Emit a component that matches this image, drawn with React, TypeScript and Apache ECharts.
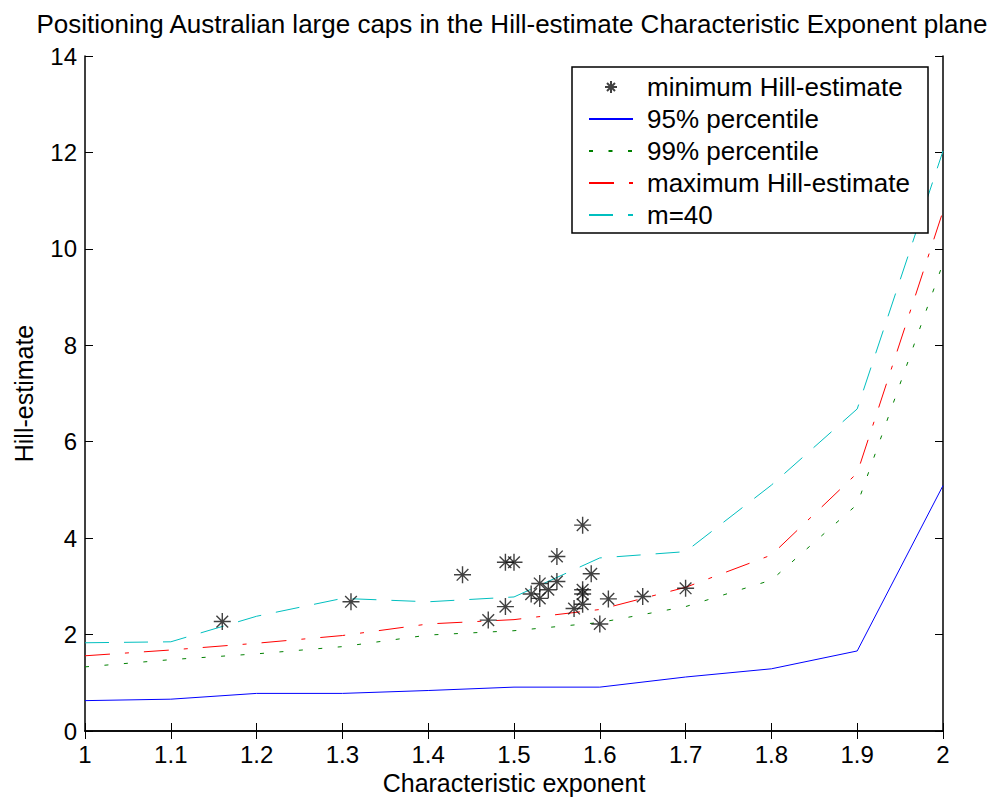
import React, { useEffect, useRef } from "react";
import * as echarts from "echarts";

const titleText = "Positioning Australian large caps in the Hill-estimate Characteristic Exponent plane";
const xName = "Characteristic exponent";
const yName = "Hill-estimate";

const alphas = [1.0, 1.1, 1.2, 1.3, 1.4, 1.5, 1.6, 1.7, 1.8, 1.9, 2.0];
const pct95 = [0.63, 0.66, 0.78, 0.78, 0.84, 0.91, 0.91, 1.12, 1.29, 1.66, 5.09];
const pct99 = [1.33, 1.48, 1.6, 1.75, 1.99, 2.08, 2.25, 2.58, 3.13, 4.7, 9.7];
const maxHill = [1.56, 1.68, 1.82, 1.98, 2.22, 2.31, 2.52, 2.98, 3.65, 5.35, 10.78];
const m40 = [1.83, 1.85, 2.38, 2.75, 2.68, 2.78, 3.59, 3.72, 5.1, 6.68, 12.03];

const minHillX = [1.16, 1.31, 1.44, 1.47, 1.49, 1.49, 1.5, 1.52, 1.53, 1.53, 1.54, 1.55, 1.55, 1.57, 1.58, 1.58, 1.58, 1.58, 1.59, 1.6, 1.61, 1.65, 1.7];
const minHillY = [2.27, 2.68, 3.24, 2.3, 3.5, 2.58, 3.5, 2.84, 3.06, 2.75, 2.93, 3.62, 3.1, 2.54, 4.27, 2.93, 2.84, 2.63, 3.26, 2.22, 2.74, 2.79, 2.96];

const seriesNames = ["minimum Hill-estimate", "95% percentile", "99% percentile", "maximum Hill-estimate", "m=40"];

const FONT = "'Liberation Sans', Arial, Helvetica, sans-serif";
const ASTERISK = "path://M8,0L8,16M0,8L16,8M2.5,2.5L13.5,13.5M2.5,13.5L13.5,2.5";
const ASTERISK_ICON = "path://M0,0M22,22M11,5L11,17M5,11L17,11M7,7L15,15M7,15L15,7";

const pair = (xs: number[], ys: number[]) => xs.map((x, i) => [x, ys[i]]);

export default function App() {
  const ref = useRef<HTMLDivElement>(null);
  useEffect(() => {
    if (!ref.current) return;
    const chart = echarts.init(ref.current, undefined, { renderer: "svg" });
    const fmtX = (v: number) => String(parseFloat(v.toFixed(1)));
    const axisLine = { show: true, lineStyle: { color: "#000", width: 1.5 } };
    const tick = { show: true, inside: true, length: 8, lineStyle: { color: "#000", width: 1 } };
    const lineSeries = (name: string, data: number[], color: string, type: any) => ({
      name,
      type: "line",
      data: pair(alphas, data),
      symbol: "none",
      showSymbol: false,
      lineStyle: { color, width: 1, type },
      itemStyle: { color },
      xAxisIndex: 0,
      yAxisIndex: 0,
      z: 2,
    });
    const hiddenSymbol = { opacity: 0 };
    chart.setOption({
      animation: false,
      backgroundColor: "#fff",
      title: {
        text: titleText,
        left: 512,
        top: 11,
        textAlign: "center",
        padding: 0,
        textStyle: { fontFamily: FONT, fontSize: 26, fontWeight: "normal", color: "#000" },
      },
      grid: { left: 85, right: 46, top: 56, bottom: 67, containLabel: false, outerBoundsMode: "none" },
      legend: {
        orient: "vertical",
        left: 572,
        top: 67,
        padding: [7, 10, 7, 16],
        itemWidth: 44,
        itemHeight: 22,
        itemGap: 6,
        textStyle: { fontFamily: FONT, fontSize: 26, color: "#000", lineHeight: 22, padding: [0, 0, 0, 9] },
        data: [
          { name: seriesNames[0], icon: ASTERISK_ICON },
          { name: seriesNames[1], itemStyle: hiddenSymbol },
          { name: seriesNames[2], itemStyle: hiddenSymbol },
          { name: seriesNames[3], itemStyle: hiddenSymbol },
          { name: seriesNames[4], itemStyle: hiddenSymbol },
        ],
        z: 10,
      },
      graphic: [
        {
          type: "rect",
          shape: { x: 572, y: 67, width: 356, height: 166 },
          style: { fill: "#fff", stroke: "#000", lineWidth: 1.5 },
          z: 5,
          zlevel: 0,
        },
      ],
      xAxis: [
        {
          type: "value",
          min: 1,
          max: 2,
          interval: 0.1,
          position: "bottom",
          name: xName,
          nameLocation: "middle",
          nameGap: 39,
          nameTextStyle: { fontFamily: FONT, fontSize: 25, color: "#000" },
          axisLine,
          axisTick: tick,
          axisLabel: { fontFamily: FONT, fontSize: 24, color: "#000", margin: 11, formatter: fmtX },
          splitLine: { show: false },
        },
        {
          type: "value",
          min: 1,
          max: 2,
          interval: 0.1,
          position: "top",
          axisLine,
          axisTick: tick,
          axisLabel: { show: false },
          splitLine: { show: false },
        },
      ],
      yAxis: [
        {
          type: "value",
          min: 0,
          max: 14,
          interval: 2,
          position: "left",
          name: yName,
          nameLocation: "middle",
          nameGap: 49,
          nameRotate: 90,
          nameTextStyle: { fontFamily: FONT, fontSize: 25, color: "#000" },
          axisLine,
          axisTick: tick,
          axisLabel: { fontFamily: FONT, fontSize: 24, color: "#000", margin: 8 },
          splitLine: { show: false },
        },
        {
          type: "value",
          min: 0,
          max: 14,
          interval: 2,
          position: "right",
          axisLine,
          axisTick: tick,
          axisLabel: { show: false },
          splitLine: { show: false },
        },
      ],
      series: [
        {
          name: seriesNames[0],
          type: "scatter",
          data: pair(minHillX, minHillY),
          symbol: ASTERISK,
          symbolSize: 17,
          itemStyle: { color: "rgba(0,0,0,0)", borderColor: "#111", borderWidth: 1.4 },
          xAxisIndex: 0,
          yAxisIndex: 0,
          z: 3,
        },
        lineSeries(seriesNames[1], pct95, "#0000ff", "solid"),
        lineSeries(seriesNames[2], pct99, "#008000", [4, 15.5]),
        lineSeries(seriesNames[3], maxHill, "#ff0000", [25, 15, 4, 15]),
        lineSeries(seriesNames[4], m40, "#00bfbf", [24, 15]),
      ],
    });
    return () => chart.dispose();
  }, []);
  return <div ref={ref} style={{ width: 989, height: 798, position: "absolute", left: 0, top: 0 }} />;
}
